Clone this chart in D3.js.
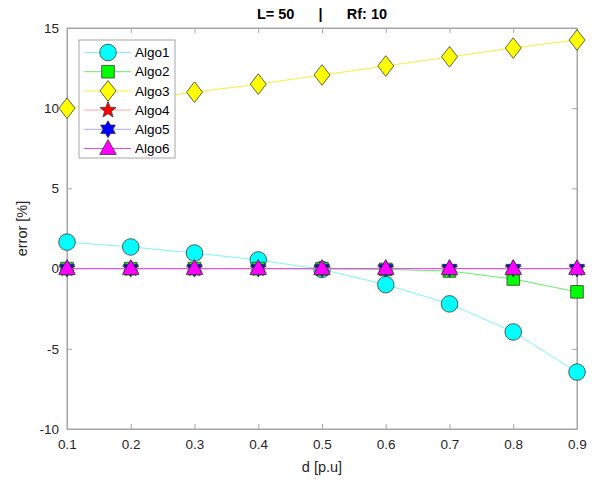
<!DOCTYPE html>
<html lang="en">
<head>
    <meta charset="UTF-8">
    <script src="https://d3js.org/d3.v7.min.js"></script>
    <title>error vs d</title>
    <style>
        body {
            margin: 0;
            padding: 0;
            background: #fff;
        }

        svg {
            display: block;
            font-family: "Liberation Sans", Arial, sans-serif;
        }
    </style>
</head>
<body>
<script>

    // data
    var dValues = [0.1, 0.2, 0.3, 0.4, 0.5, 0.6, 0.7, 0.8, 0.9]
    var algo1 = [1.65, 1.35, 0.97, 0.54, -0.05, -1.0, -2.2, -3.95, -6.45]
    var algo2 = [0, 0, 0, 0, -0.02, -0.05, -0.15, -0.65, -1.45]
    var algo3 = [10.0, 10.5, 11.0, 11.5, 12.07, 12.63, 13.2, 13.75, 14.25]
    var algo4 = [0, 0, 0, 0, 0, 0, 0, 0, 0]
    var algo5 = [0, 0, 0, 0, 0, 0, 0, 0, 0]
    var algo6 = [0, 0, 0, 0, 0, 0, 0, 0, 0]
    var seriesNames = ['Algo1', 'Algo2', 'Algo3', 'Algo4', 'Algo5', 'Algo6']
    var xTicks = [0.1, 0.2, 0.3, 0.4, 0.5, 0.6, 0.7, 0.8, 0.9]
    var yTicks = [-10, -5, 0, 5, 10, 15]

    var series = [
        { name: 'Algo1', values: algo1, line: '#7ff5f5', fill: '#00ffff', marker: 'circle' },
        { name: 'Algo2', values: algo2, line: '#66ee66', fill: '#00ff00', marker: 'square' },
        { name: 'Algo3', values: algo3, line: '#f2f23a', fill: '#ffff00', marker: 'diamond' },
        { name: 'Algo4', values: algo4, line: '#ffaaaa', fill: '#ff0000', marker: 'pentagram' },
        { name: 'Algo5', values: algo5, line: '#aaaaff', fill: '#0000ff', marker: 'hexagram' },
        { name: 'Algo6', values: algo6, line: '#ee44ee', fill: '#ff00ff', marker: 'triangle' }
    ]

    var W = 595, H = 486
    var plot = { left: 67, right: 577, top: 28, bottom: 429 }

    var x = d3.scaleLinear().domain([0.1, 0.9]).range([plot.left, plot.right])
    var y = d3.scaleLinear().domain([-10, 15]).range([plot.bottom, plot.top])

    var svg = d3.select('body').append('svg')
        .attr('width', W)
        .attr('height', H)

    // marker path strings, centered at 0,0
    function starPath(n, rOut, rIn) {
        var pts = []
        for (var i = 0; i < 2 * n; i++) {
            var r = i % 2 == 0 ? rOut : rIn
            var a = -Math.PI / 2 + i * Math.PI / n
            pts.push([r * Math.cos(a), r * Math.sin(a)])
        }
        return 'M' + pts.map(function (p) { return p[0].toFixed(2) + ',' + p[1].toFixed(2) }).join('L') + 'Z'
    }

    function markerPath(type) {
        if (type == 'circle') return d3.symbol().type(d3.symbolCircle).size(Math.PI * 8.3 * 8.3)()
        if (type == 'square') return 'M-6.3,-6.3L6.3,-6.3L6.3,6.3L-6.3,6.3Z'
        if (type == 'diamond') return 'M0,-10.3L8,0L0,10.3L-8,0Z'
        if (type == 'pentagram') return starPath(5, 8.5, 3.6)
        if (type == 'hexagram') return starPath(6, 8.5, 4.9)
        if (type == 'triangle') return 'M0,-9L8.3,6L-8.3,6Z'
    }

    // axes box
    svg.append('rect')
        .attr('x', plot.left)
        .attr('y', plot.top)
        .attr('width', plot.right - plot.left)
        .attr('height', plot.bottom - plot.top)
        .attr('fill', 'white')
        .attr('stroke', '#a6a6a6')
        .attr('stroke-width', 1)

    // axes with inward ticks, mirrored on top/right
    var axisColor = '#a6a6a6'
    var textColor = '#262626'

    var xAxis = svg.append('g')
        .attr('transform', 'translate(0,' + plot.bottom + ')')
        .call(d3.axisBottom(x).tickValues(xTicks).tickSizeInner(-5).tickSizeOuter(0).tickPadding(9).tickFormat(d3.format('.1f')))
    var xAxisTop = svg.append('g')
        .attr('transform', 'translate(0,' + plot.top + ')')
        .call(d3.axisTop(x).tickValues(xTicks).tickSizeInner(-5).tickSizeOuter(0).tickFormat(''))
    var yAxis = svg.append('g')
        .attr('transform', 'translate(' + plot.left + ',0)')
        .call(d3.axisLeft(y).tickValues(yTicks).tickSizeInner(-5).tickSizeOuter(0).tickPadding(8)
            .tickFormat(function (d) { return String(d) }))
    var yAxisRight = svg.append('g')
        .attr('transform', 'translate(' + plot.right + ',0)')
        .call(d3.axisRight(y).tickValues(yTicks).tickSizeInner(-5).tickSizeOuter(0).tickFormat(''))

    svg.selectAll('.domain').attr('stroke', axisColor)
    svg.selectAll('.tick line').attr('stroke', axisColor)
    svg.selectAll('.tick text')
        .attr('fill', textColor)
        .style('font-size', '13.5px')
        .style('font-family', '"Liberation Sans", Arial, sans-serif')
    xAxis.selectAll('.tick text').attr('dy', '0.85em')

    // series: line then markers, drawn in order
    var line = d3.line()
        .x(function (d, i) { return x(dValues[i]) })
        .y(function (d) { return y(d) })

    series.forEach(function (s) {
        var g = svg.append('g').attr('class', 'series')
        g.append('path')
            .datum(s.values)
            .attr('d', line)
            .attr('fill', 'none')
            .attr('stroke', s.line)
            .attr('stroke-width', 1)

        g.selectAll('path.marker')
            .data(s.values)
            .enter()
            .append('path')
            .attr('class', 'marker')
            .attr('d', markerPath(s.marker))
            .attr('transform', function (d, i) { return 'translate(' + x(dValues[i]) + ',' + y(d) + ')' })
            .attr('fill', s.fill)
            .attr('stroke', '#3a3a3a')
            .attr('stroke-width', 0.8)
    })

    // legend
    var leg = { x: 79, y: 40, w: 96, h: 118, rowH: 19.2 }
    var legend = svg.append('g')
    legend.append('rect')
        .attr('x', leg.x)
        .attr('y', leg.y)
        .attr('width', leg.w)
        .attr('height', leg.h)
        .attr('fill', 'white')
        .attr('stroke', '#a6a6a6')

    var rows = legend.selectAll('g.row')
        .data(series)
        .enter()
        .append('g')
        .attr('transform', function (d, i) { return 'translate(0,' + (leg.y + 12.5 + i * leg.rowH) + ')' })

    rows.append('line')
        .attr('x1', 84)
        .attr('x2', 131)
        .attr('stroke', function (d) { return d.line })
        .attr('stroke-width', 1)
    rows.append('path')
        .attr('d', function (d) { return markerPath(d.marker) })
        .attr('transform', 'translate(108,0)')
        .attr('fill', function (d) { return d.fill })
        .attr('stroke', '#3a3a3a')
        .attr('stroke-width', 0.8)
    rows.append('text')
        .attr('x', 135)
        .attr('dy', '0.35em')
        .attr('fill', 'black')
        .style('font-size', '13.5px')
        .text(function (d, i) { return seriesNames[i] })

    // title and axis labels
    svg.append('text')
        .attr('x', (plot.left + plot.right) / 2)
        .attr('y', 19)
        .attr('text-anchor', 'middle')
        .attr('fill', 'black')
        .style('font-size', '14.5px')
        .style('font-weight', 'bold')
        .style('white-space', 'pre')
        .text('L= 50      |      Rf: 10')

    svg.append('text')
        .attr('x', (plot.left + plot.right) / 2)
        .attr('y', 472)
        .attr('text-anchor', 'middle')
        .attr('fill', textColor)
        .style('font-size', '14.5px')
        .text('d [p.u]')

    svg.append('text')
        .attr('transform', 'translate(27,' + ((plot.top + plot.bottom) / 2) + ') rotate(-90)')
        .attr('text-anchor', 'middle')
        .attr('fill', textColor)
        .style('font-size', '14.5px')
        .text('error [%]')

</script>
</body>
</html>
